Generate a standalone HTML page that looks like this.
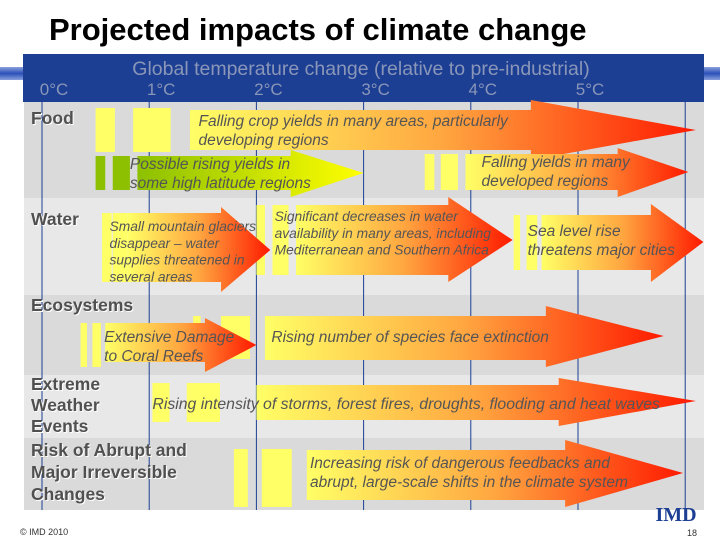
<!DOCTYPE html>
<html><head><meta charset="utf-8"><style>
body{margin:0;width:720px;height:540px;background:#fff;overflow:hidden;font-family:"Liberation Sans",sans-serif}
</style></head><body>
<svg width="720" height="540" xmlns="http://www.w3.org/2000/svg" style="position:absolute;left:0;top:0">
<defs>
<linearGradient id="hot" x1="0" x2="1" y1="0" y2="0"><stop offset="0" stop-color="#ffff66"/><stop offset="0.5" stop-color="#ffa640"/><stop offset="1" stop-color="#ff1a00"/></linearGradient>
<linearGradient id="green" x1="0" x2="1" y1="0" y2="0"><stop offset="0" stop-color="#8cc000"/><stop offset="1" stop-color="#ffff00"/></linearGradient>
<linearGradient id="lb" x1="0" x2="0" y1="0" y2="1"><stop offset="0" stop-color="#8aa0dd"/><stop offset="0.5" stop-color="#2b50b8"/><stop offset="1" stop-color="#8aa0dd"/></linearGradient>
</defs>
<text x="49" y="40" font-size="31" font-weight="bold" fill="#000">Projected impacts of climate change</text>
<rect x="0" y="67" width="24" height="13" fill="url(#lb)"/>
<rect x="704" y="67" width="16" height="13" fill="url(#lb)"/>
<rect x="23" y="54" width="681" height="48" fill="#1c3f94"/>
<text x="361" y="75" font-size="19.5" fill="#8a96b8" text-anchor="middle">Global temperature change (relative to pre-industrial)</text>
<g id="rows"></g>
<g id="grid"></g>
<g id="ticks"></g>
<g id="marks"></g>
<g font-size="17.5" font-weight="bold" fill="#505050" style="text-shadow:1px 1px 0 #fff">
<text x="31" y="124">Food</text>
<text x="31" y="225">Water</text>
<text x="31" y="311">Ecosystems</text>
<text x="31" y="390"><tspan x="31">Extreme</tspan><tspan x="31" dy="21">Weather</tspan><tspan x="31" dy="21">Events</tspan></text>
<text x="31" y="456"><tspan x="31">Risk of Abrupt and</tspan><tspan x="31" dy="22">Major Irreversible</tspan><tspan x="31" dy="22">Changes</tspan></text>
</g>
<text x="20" y="535" font-size="9" fill="#333">© IMD 2010</text>
<text x="697" y="536" font-size="9" fill="#333" text-anchor="end">18</text>
<text x="676" y="521" font-size="20" font-weight="bold" fill="#1c3f94" text-anchor="middle" font-family="Liberation Serif">IMD</text>
</svg>
<script>
const tempTicks=[0,1,2,3,4,5,6];
const tickLabels=["0°C","1°C","2°C","3°C","4°C","5°C",""];
const rowNames=["food","water","ecosystems","extreme","abrupt"];
const rowBounds=[[102,198],[198,295],[295,375],[375,438],[438,510]];
const rowFills=["#dadada","#e8e8e8","#dadada","#e8e8e8","#dadada"];
// arrows: [startTemp, headStartTemp, tipTemp]
const arrowNames=["falling-crop-yields","rising-yields-high-latitude","falling-yields-developed","mountain-glaciers","water-availability","sea-level-rise","coral-reefs","species-extinction","extreme-weather","abrupt-shifts"];
const arrowTemps=[[1.38,4.56,6.1],[0.89,2.32,3.0],[3.95,5.37,6.03],[0.8,1.67,2.13],[2.37,3.79,4.39],[4.66,5.68,6.17],[0.59,1.52,2.0],[2.08,4.7,5.8],[2.0,4.82,6.1],[2.47,4.88,5.98]];
const arrowY=[[110,150,100,160,130],[156,190,150,197,173],[154,190,148,197,172],[213,282,207,292,250],[205,275,197,282,240],[215,270,204,282,242],[323,362,318,372,345],[316,360,306,367,336],[385,420,378,426,401],[450,500,440,507,473]];
const arrowText=[["Falling crop yields in many areas, particularly","developing regions"],["Possible rising yields in","some high latitude regions"],["Falling yields in many","developed regions"],["Small mountain glaciers","disappear – water","supplies threatened in","several areas"],["Significant decreases in water","availability in many areas, including","Mediterranean and Southern Africa"],["Sea level rise","threatens major cities"],["Extensive Damage","to Coral Reefs"],["Rising number of species face extinction"],["Rising intensity of storms, forest fires, droughts, flooding and heat waves"],["Increasing risk of dangerous feedbacks and","abrupt, large-scale shifts in the climate system"]];
const textSize=[15.5,15.5,15.5,13.8,13.8,15.5,15.5,15.5,15.8,15.5];
const textX=[1.46,0.82,4.1,0.63,2.17,4.53,0.58,2.14,1.03,2.5];
const textY=[126,169,167,231,221,236,342,342,409,468];
const x=t=>42+107.2*t;
// bars: [tempStart, tempEnd, yTop, yBot, kind]
const bars=[[0.5,0.68,108,152,0],[0.85,1.2,108,152,0],[0.5,0.59,156,190,1],[0.66,0.82,156,190,1],[3.57,3.66,154,190,0],[3.72,3.88,154,190,0],[0.56,0.65,213,282,0],[0.66,0.8,213,282,0],[2.0,2.08,205,275,0],[2.15,2.3,205,275,0],[4.4,4.46,215,270,0],[4.52,4.62,215,270,0],[0.36,0.42,323,367,0],[0.47,0.55,323,367,0],[1.41,1.48,316,359,0],[1.67,1.94,316,359,0],[1.03,1.19,383,422,0],[1.35,1.66,383,422,0],[1.79,1.92,449,507,0],[2.05,2.33,449,507,0]];
const NS="http://www.w3.org/2000/svg";
function mk(tag,parent,attrs){const e=document.createElementNS(NS,tag);for(const k in attrs)e.setAttribute(k,attrs[k]);parent.appendChild(e);return e;}
const rows=document.getElementById('rows'),grid=document.getElementById('grid'),ticks=document.getElementById('ticks'),marks=document.getElementById('marks');
rowBounds.forEach((b,i)=>{const r=mk('rect',rows,{x:24,y:b[0],width:680,height:b[1]-b[0],fill:rowFills[i]});

});
tempTicks.forEach((t,i)=>{const l=mk('line',grid,{x1:x(t),x2:x(t),y1:102,y2:510,stroke:'#1c3f94','stroke-width':1});


if(tickLabels[i]){const tx=mk('text',ticks,{x:x(t)+12,y:95,'font-size':17,fill:'#8a96b8','text-anchor':'middle'});tx.textContent=tickLabels[i];

}});
bars.forEach((b,i)=>{const r=mk('rect',marks,{x:x(b[0]),y:b[2],width:x(b[1])-x(b[0]),height:b[3]-b[2],fill:b[4]?'#8cc000':'#ffff66'});

});
arrowTemps.forEach((a,i)=>{const y=arrowY[i];const x0=x(a[0]),xh=x(a[1]),xt=x(a[2]);
const p=mk('polygon',marks,{points:`${x0},${y[0]} ${xh},${y[0]} ${xh},${y[2]} ${xt},${y[4]} ${xh},${y[3]} ${xh},${y[1]} ${x0},${y[1]}`,fill:i==1?'url(#green)':'url(#hot)'});


const tx=mk('text',marks,{x:x(textX[i]),y:textY[i],'font-size':textSize[i],'font-style':'italic',fill:'#555'});
arrowText[i].forEach((s,j)=>{const ts=mk('tspan',tx,{x:x(textX[i]),dy:j?textSize[i]*1.22:0});ts.textContent=s;});

});
</script>
</body></html>
